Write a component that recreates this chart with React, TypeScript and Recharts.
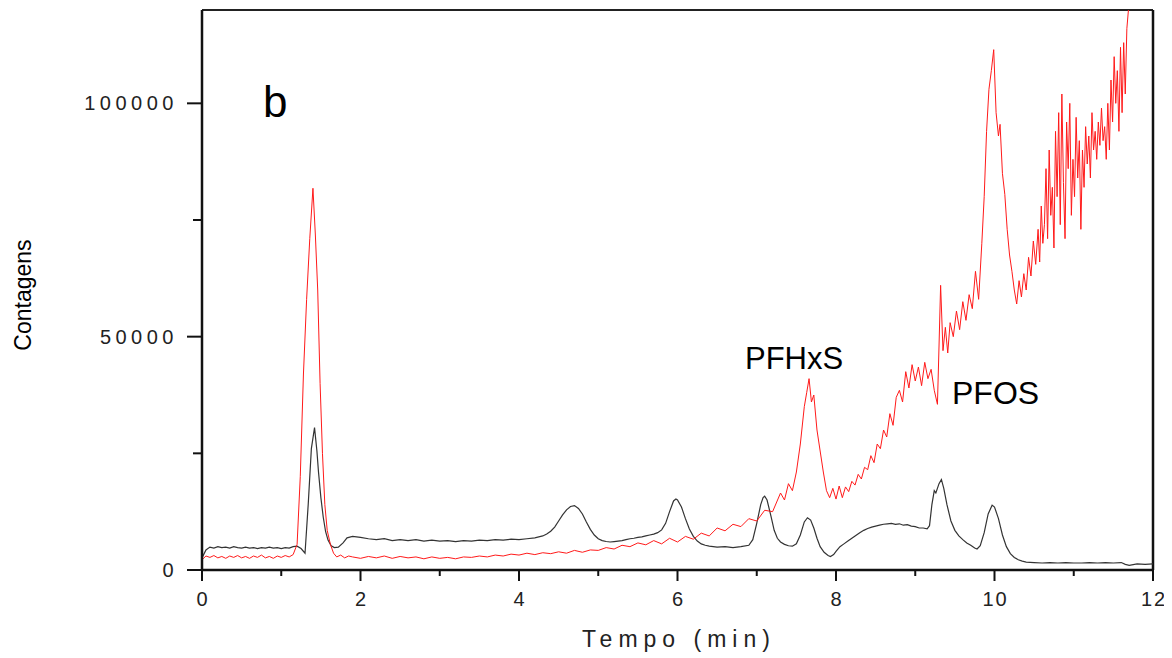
import React from 'react';
import { LineChart, Line, XAxis, YAxis, ReferenceLine } from 'recharts';

const blackTrace: [number, number][] = [
  [0, 2600], [0.05, 4300], [0.1, 4900], [0.15, 4700], [0.2, 5000], [0.25, 4800], [0.3, 4900],
  [0.35, 4700], [0.4, 5000], [0.45, 4800], [0.5, 4700], [0.55, 4900], [0.6, 4700], [0.65, 4800],
  [0.7, 4600], [0.75, 4800], [0.8, 4700], [0.85, 4900], [0.9, 4700], [0.95, 4800], [1.0, 4600],
  [1.05, 4800], [1.1, 4700], [1.15, 5000], [1.2, 5100], [1.25, 4600], [1.3, 3600], [1.34, 14000],
  [1.38, 26000], [1.42, 30500], [1.45, 25500], [1.47, 21000], [1.5, 15500], [1.53, 11300],
  [1.56, 8200], [1.59, 6400], [1.63, 5200], [1.67, 4800], [1.72, 4900], [1.78, 5800], [1.83, 6900],
  [1.9, 7200], [2.0, 7000], [2.1, 6700], [2.2, 6500], [2.3, 6700], [2.4, 6300], [2.5, 6500],
  [2.6, 6300], [2.7, 6500], [2.8, 6200], [2.9, 6400], [3.0, 6200], [3.1, 6300], [3.2, 6100],
  [3.3, 6300], [3.4, 6200], [3.5, 6400], [3.6, 6300], [3.7, 6500], [3.8, 6400], [3.9, 6600],
  [4.0, 6500], [4.1, 6700], [4.2, 6900], [4.3, 7300], [4.35, 7700], [4.4, 8300], [4.45, 9200],
  [4.5, 10500], [4.55, 11800], [4.6, 12900], [4.65, 13600], [4.7, 13800], [4.75, 13200],
  [4.8, 12000], [4.85, 10300], [4.9, 8700], [4.95, 7500], [5.0, 6700], [5.05, 6300], [5.1, 6100],
  [5.15, 6000], [5.2, 6100], [5.25, 6200], [5.3, 6300], [5.35, 6500], [5.4, 6700], [5.45, 6800],
  [5.5, 7000], [5.55, 7100], [5.6, 7300], [5.65, 7500], [5.7, 7700], [5.75, 8000], [5.8, 8600],
  [5.85, 10000], [5.9, 12500], [5.95, 14800], [5.98, 15200], [6.0, 15000], [6.05, 13500],
  [6.1, 11000], [6.15, 8800], [6.2, 7200], [6.25, 6200], [6.3, 5600], [6.35, 5300], [6.4, 5100],
  [6.5, 4900], [6.6, 5000], [6.7, 4800], [6.8, 5000], [6.9, 5300], [6.95, 6500], [7.0, 10000],
  [7.05, 14000], [7.08, 15500], [7.1, 15800], [7.13, 15000], [7.18, 11500], [7.22, 8500],
  [7.26, 6800], [7.3, 6000], [7.35, 5500], [7.4, 5200], [7.45, 5100], [7.5, 5600], [7.55, 7500],
  [7.6, 10300], [7.64, 11200], [7.68, 10700], [7.72, 9000], [7.76, 6800], [7.8, 5000], [7.85, 3800],
  [7.9, 3100], [7.93, 2900], [7.97, 3300], [8.0, 4000], [8.05, 5000], [8.1, 5600], [8.15, 6200],
  [8.2, 6800], [8.25, 7400], [8.3, 8000], [8.35, 8500], [8.4, 8900], [8.45, 9200], [8.5, 9400],
  [8.55, 9600], [8.6, 9800], [8.65, 9900], [8.7, 10000], [8.75, 9800], [8.8, 9900], [8.85, 9600],
  [8.9, 9700], [8.95, 9400], [9.0, 9300], [9.05, 9000], [9.1, 9000], [9.15, 8800], [9.18, 9500],
  [9.21, 14000], [9.24, 17000], [9.26, 16500], [9.3, 18500], [9.33, 19400], [9.36, 17500],
  [9.4, 14000], [9.45, 10500], [9.5, 8500], [9.55, 7300], [9.6, 6500], [9.65, 5800], [9.7, 5300],
  [9.75, 4700], [9.78, 4500], [9.82, 5200], [9.87, 8000], [9.92, 12000], [9.97, 13900],
  [10.0, 13500], [10.05, 11000], [10.1, 7500], [10.15, 5000], [10.2, 3500], [10.25, 2700],
  [10.3, 2200], [10.35, 1900], [10.4, 1700], [10.5, 1600], [10.6, 1500], [10.7, 1600],
  [10.8, 1500], [10.9, 1600], [11.0, 1500], [11.1, 1500], [11.2, 1600], [11.3, 1500],
  [11.4, 1600], [11.5, 1500], [11.6, 1600], [11.65, 1200], [11.7, 1000], [11.8, 1300],
  [11.9, 1200], [12.0, 1300],
];

const redTrace: [number, number][] = [
  [0, 2200], [0.05, 3000], [0.1, 2700], [0.15, 3100], [0.2, 2600], [0.25, 2900], [0.3, 2500],
  [0.35, 3000], [0.4, 2700], [0.45, 3100], [0.5, 2600], [0.55, 2900], [0.6, 2500], [0.65, 3000],
  [0.7, 2700], [0.75, 3200], [0.8, 2600], [0.85, 2900], [0.9, 2500], [0.95, 3000], [1.0, 2700],
  [1.05, 3100], [1.1, 2800], [1.15, 3300], [1.2, 5500], [1.24, 20000], [1.28, 42000],
  [1.32, 58000], [1.36, 71000], [1.4, 81800], [1.43, 72000], [1.46, 60000], [1.49, 40000],
  [1.52, 25000], [1.55, 14000], [1.58, 8500], [1.62, 5500], [1.66, 3600], [1.7, 2800],
  [1.75, 3200], [1.8, 2600], [1.85, 3000], [1.9, 2800], [2.0, 2500], [2.1, 2900], [2.2, 2600],
  [2.3, 3000], [2.4, 2500], [2.5, 2900], [2.6, 2600], [2.7, 2800], [2.8, 2400], [2.9, 2800],
  [3.0, 2500], [3.1, 2700], [3.2, 2400], [3.3, 2800], [3.4, 2700], [3.5, 3000], [3.6, 2800],
  [3.7, 3200], [3.8, 3000], [3.9, 3400], [4.0, 3200], [4.1, 3600], [4.2, 3300], [4.3, 3700],
  [4.4, 3500], [4.5, 3900], [4.6, 3600], [4.7, 4200], [4.8, 3800], [4.9, 4300], [5.0, 4200],
  [5.1, 4800], [5.2, 4500], [5.3, 5300], [5.4, 5000], [5.5, 5800], [5.6, 5400], [5.7, 6300],
  [5.8, 5600], [5.9, 6800], [6.0, 6000], [6.1, 7200], [6.2, 6600], [6.3, 7900], [6.4, 7300],
  [6.5, 9000], [6.6, 8400], [6.7, 9800], [6.8, 9300], [6.9, 11000], [7.0, 10500], [7.1, 12800],
  [7.2, 12500], [7.3, 16500], [7.35, 15000], [7.4, 18500], [7.45, 17000], [7.5, 21000],
  [7.55, 27000], [7.6, 35000], [7.63, 38000], [7.66, 41000], [7.69, 36000], [7.72, 37500],
  [7.76, 30000], [7.8, 25500], [7.84, 21000], [7.88, 17000], [7.92, 15500], [7.96, 17500],
  [8.0, 15200], [8.04, 18000], [8.08, 15500], [8.12, 17800], [8.16, 16800], [8.2, 19000],
  [8.24, 18200], [8.28, 20500], [8.32, 19500], [8.36, 22000], [8.4, 21500], [8.44, 24500],
  [8.48, 23000], [8.52, 27000], [8.56, 26000], [8.6, 30000], [8.64, 28500], [8.68, 33500],
  [8.72, 31000], [8.76, 37000], [8.8, 38500], [8.84, 36000], [8.88, 42500], [8.92, 39000],
  [8.96, 44000], [9.0, 40500], [9.04, 43500], [9.08, 39500], [9.12, 44500], [9.16, 41000],
  [9.2, 43000], [9.24, 38500], [9.28, 35500], [9.3, 48000], [9.32, 61000], [9.35, 47000],
  [9.38, 52000], [9.41, 46500], [9.44, 53000], [9.48, 50000], [9.52, 55500], [9.56, 51500],
  [9.6, 57500], [9.64, 53500], [9.68, 59000], [9.72, 56000], [9.76, 64000], [9.8, 58000],
  [9.84, 70000], [9.87, 80000], [9.9, 94000], [9.93, 103000], [9.96, 107000], [9.99, 111500],
  [10.02, 98000], [10.05, 93000], [10.07, 95500], [10.1, 85000], [10.13, 80500], [10.16, 73000],
  [10.19, 67500], [10.22, 64000], [10.25, 60000], [10.28, 57000], [10.31, 62000], [10.34, 58500],
  [10.37, 63500], [10.4, 60000], [10.43, 67000], [10.46, 63000], [10.49, 70500], [10.52, 65500],
  [10.55, 73000], [10.57, 66000], [10.59, 78000], [10.61, 70000], [10.63, 74000], [10.65, 86000],
  [10.67, 71000], [10.69, 90000], [10.71, 76000], [10.73, 82000], [10.75, 69000], [10.77, 94000],
  [10.79, 80000], [10.81, 98000], [10.83, 74000], [10.85, 102000], [10.87, 83000], [10.89, 71000],
  [10.91, 96000], [10.93, 86000], [10.95, 100000], [10.97, 76000], [10.99, 88000], [11.01, 80000],
  [11.03, 97000], [11.05, 84000], [11.07, 92000], [11.09, 73000], [11.11, 90000], [11.13, 82000],
  [11.15, 95000], [11.17, 87000], [11.19, 93000], [11.21, 84000], [11.23, 98000], [11.25, 90000],
  [11.27, 94000], [11.29, 88000], [11.31, 96000], [11.33, 91000], [11.35, 99000], [11.37, 92000],
  [11.39, 95000], [11.41, 88000], [11.43, 100000], [11.45, 90000], [11.47, 105000], [11.49, 96000],
  [11.51, 110000], [11.53, 100000], [11.55, 107000], [11.57, 94000], [11.59, 112000],
  [11.61, 98000], [11.63, 113000], [11.65, 102000], [11.67, 116000], [11.69, 120000],
];

const xTicks = [0, 1, 2, 3, 4, 5, 6, 7, 8, 9, 10, 11, 12];
const yTicks = [0, 25000, 50000, 75000, 100000];

const blackData = blackTrace.map(([t, v]) => ({ t, v }));
const redData = redTrace.map(([t, v]) => ({ t, v }));

const FONT = '"Liberation Sans", Arial, sans-serif';

const XTick = (props: any) => {
  const { x, y, payload } = props;
  const major = payload.value % 2 === 0;
  return (
    <g>
      <line x1={x} y1={y} x2={x} y2={y + (major ? 11 : 6)} stroke="#111" strokeWidth={2} />
      {major && (
        <text x={x + 1} y={y + 36} textAnchor="middle" fontSize={20} letterSpacing={2}
          fontFamily={FONT} fill="#222">
          {payload.value}
        </text>
      )}
    </g>
  );
};

const YTick = (props: any) => {
  const { x, y, payload } = props;
  const major = payload.value % 50000 === 0;
  return (
    <g>
      <line x1={x - (major ? 15 : 9)} y1={y} x2={x} y2={y} stroke="#111" strokeWidth={2} />
      {major && (
        <text x={x - 24} y={y} dy="0.35em" textAnchor="end" fontSize={20} letterSpacing={4.5}
          fontFamily={FONT} fill="#222">
          {payload.value}
        </text>
      )}
    </g>
  );
};

export default function App() {
  return (
    <LineChart width={1160} height={648} margin={{ top: 2, right: 15, bottom: 0, left: 0 }}>
      <XAxis
        dataKey="t"
        type="number"
        domain={[0, 12]}
        ticks={xTicks}
        tick={<XTick />}
        tickLine={false}
        tickSize={0}
        tickMargin={0}
        height={86}
        axisLine={{ stroke: '#111', strokeWidth: 2.5 }}
        allowDuplicatedCategory={false}
      />
      <YAxis
        type="number"
        domain={[0, 120000]}
        ticks={yTicks}
        tick={<YTick />}
        tickLine={false}
        tickSize={0}
        tickMargin={0}
        width={194}
        axisLine={{ stroke: '#111', strokeWidth: 2.5 }}
        allowDataOverflow
      />
      <ReferenceLine y={120000} stroke="#222" strokeWidth={2} />
      <ReferenceLine x={12} stroke="#111" strokeWidth={2.5} />
      <Line data={blackData} dataKey="v" type="linear" stroke="#333" strokeWidth={1.2}
        dot={false} isAnimationActive={false} />
      <Line data={redData} dataKey="v" type="linear" stroke="#ff1a1a" strokeWidth={1}
        dot={false} isAnimationActive={false} />
      <text x={255} y={109} fontSize={44} fontFamily={FONT} fill="#000">b</text>
      <text x={737} y={361} fontSize={31} fontFamily={FONT} fill="#000">PFHxS</text>
      <text x={944} y={396} fontSize={32} fontFamily={FONT} fill="#000">PFOS</text>
      <text x={23} y={287} transform="rotate(-90, 23, 287)" textAnchor="middle" fontSize={23}
        fontFamily={FONT} fill="#000">Contagens</text>
      <text x={671} y={639} textAnchor="middle" fontSize={23} letterSpacing={6}
        fontFamily={FONT} fill="#222">Tempo (min)</text>
    </LineChart>
  );
}
